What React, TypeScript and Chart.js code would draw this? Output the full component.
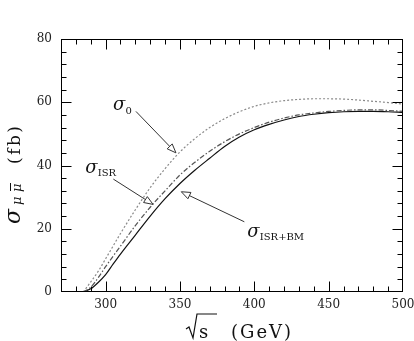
import React, { useEffect, useRef } from 'react';
import { Chart, registerables } from 'chart.js';

Chart.register(...registerables);

// sqrt(s) in GeV
const energies = [285, 290, 295, 300, 305, 310, 320, 330, 340, 350, 360, 370, 380, 390, 400, 410, 420, 430, 440, 450, 460, 470, 480, 490, 500];
// cross sections in fb
const sigma0 = [0, 3.2, 6.5, 10.5, 14.5, 18.5, 26, 33, 39, 44.3, 48.5, 52, 54.8, 57, 58.7, 59.8, 60.5, 60.9, 61.1, 61.1, 61, 60.7, 60.3, 59.9, 59.4];
const sigmaISR = [0, 1.5, 4.5, 8, 11.3, 14.5, 21, 26.8, 32, 37, 41, 44.5, 47.5, 50, 52, 53.7, 55, 56, 56.6, 57.1, 57.4, 57.6, 57.6, 57.4, 57.1];
const sigmaISRBM = [0, 1, 3, 5.5, 8.8, 12, 18, 24, 29.5, 34.3, 38.5, 42.3, 46, 49, 51.3, 53, 54.4, 55.5, 56.2, 56.7, 57, 57.1, 57.1, 57, 56.8];

const xTickLabels = [300, 350, 400, 450, 500];
const yTickLabels = [0, 20, 40, 60, 80];
const xMin = 270, xMax = 500, yMin = 0, yMax = 80;
const xMinorStep = 10;
const yMinorStep = 4;

// annotation: label anchor (data coords), arrow start and tip (data coords)
const annotations = [
  { sub: '0', label: [305, 57.5], from: [320.4, 57.1], to: [347.3, 44.0] },
  { sub: 'ISR', label: [286.3, 37.7], from: [305.2, 35.7], to: [331.9, 27.7] },
  { sub: 'ISR+BM', label: [395.3, 17.4], from: [393.3, 22.2], to: [350.9, 31.7] },
];

const SERIF = '"DejaVu Serif", "Liberation Serif", serif';

const decor = {
  id: 'decor',
  afterDatasetsDraw(chart: any) {
    const { ctx, chartArea: a } = chart;
    const xs = chart.scales.x;
    const ys = chart.scales.y;
    ctx.save();
    ctx.strokeStyle = '#000';
    ctx.lineWidth = 1;
    const L = Math.round(a.left) + 0.5;
    const R = Math.round(a.right) - 0.5;
    const T = Math.round(a.top) + 0.5;
    const B = Math.round(a.bottom) - 0.5;
    ctx.strokeRect(L, T, R - L, B - T);
    ctx.beginPath();
    for (let v = xMin + xMinorStep; v < xMax; v += xMinorStep) {
      const len = xTickLabels.includes(v) ? 10 : 5;
      const px = Math.round(xs.getPixelForValue(v)) + 0.5;
      ctx.moveTo(px, B); ctx.lineTo(px, B - len);
      ctx.moveTo(px, T); ctx.lineTo(px, T + len);
    }
    for (let v = yMin + yMinorStep; v < yMax; v += yMinorStep) {
      const len = yTickLabels.includes(v) ? 10 : 5;
      const py = Math.round(ys.getPixelForValue(v)) + 0.5;
      ctx.moveTo(L, py); ctx.lineTo(L + len, py);
      ctx.moveTo(R, py); ctx.lineTo(R - len, py);
    }
    ctx.stroke();

    // annotations
    ctx.strokeStyle = '#333';
    ctx.fillStyle = '#111';
    for (const an of annotations) {
      const lx = xs.getPixelForValue(an.label[0]);
      const ly = ys.getPixelForValue(an.label[1]);
      ctx.font = `italic 18px ${SERIF}`;
      ctx.textBaseline = 'alphabetic';
      ctx.textAlign = 'left';
      ctx.fillText('σ', lx, ly);
      ctx.font = `10px ${SERIF}`;
      ctx.fillText(an.sub, lx + 12.5, ly + 3.5);
      const fx = xs.getPixelForValue(an.from[0]);
      const fy = ys.getPixelForValue(an.from[1]);
      const tx = xs.getPixelForValue(an.to[0]);
      const ty = ys.getPixelForValue(an.to[1]);
      const ang = Math.atan2(ty - fy, tx - fx);
      const hl = 9, hw = 3.5;
      const bx = tx - hl * Math.cos(ang), by = ty - hl * Math.sin(ang);
      ctx.beginPath();
      ctx.moveTo(fx, fy);
      ctx.lineTo(bx, by);
      ctx.stroke();
      ctx.beginPath();
      ctx.moveTo(tx, ty);
      ctx.lineTo(bx + hw * Math.sin(ang), by - hw * Math.cos(ang));
      ctx.lineTo(bx - hw * Math.sin(ang), by + hw * Math.cos(ang));
      ctx.closePath();
      ctx.fillStyle = '#fff';
      ctx.fill();
      ctx.stroke();
      ctx.fillStyle = '#111';
    }

    // x title: sqrt(s)  (GeV)
    const cx = (a.left + a.right) / 2;
    const base = a.bottom + 46;
    ctx.strokeStyle = '#111';
    ctx.lineWidth = 1.2;
    ctx.beginPath();
    ctx.moveTo(cx - 46, base - 9);
    ctx.lineTo(cx - 43, base - 11);
    ctx.lineTo(cx - 39, base);
    ctx.lineTo(cx - 35, base - 24);
    ctx.lineTo(cx - 15, base - 24);
    ctx.stroke();
    ctx.fillStyle = '#111';
    ctx.font = `18px ${SERIF}`;
    ctx.textAlign = 'left';
    ctx.textBaseline = 'alphabetic';
    (ctx as any).letterSpacing = '0px';
    ctx.fillText('s', cx - 33, base);
    (ctx as any).letterSpacing = '2px';
    ctx.fillText('(GeV)', cx - 1, base);
    (ctx as any).letterSpacing = '0px';

    // y title: sigma_{mu mubar} (fb), rotated
    ctx.save();
    ctx.translate(a.left - 41, 224);
    ctx.rotate(-Math.PI / 2);
    ctx.font = `italic 22px ${SERIF}`;
    ctx.fillText('σ', 0, 0);
    ctx.font = `italic 13px ${SERIF}`;
    ctx.fillText('μ', 19, 1);
    ctx.fillText('μ', 32, 1);
    ctx.lineWidth = 1;
    ctx.beginPath();
    ctx.moveTo(33, -9.5);
    ctx.lineTo(41, -9.5);
    ctx.stroke();
    ctx.font = `17px ${SERIF}`;
    (ctx as any).letterSpacing = '2.5px';
    ctx.fillText('(fb)', 60, 0);
    (ctx as any).letterSpacing = '0px';
    ctx.restore();

    ctx.restore();
  },
};

export default function App() {
  const ref = useRef<HTMLCanvasElement | null>(null);
  useEffect(() => {
    if (!ref.current) return;
    const mk = (arr: number[]) => energies.map((e, i) => ({ x: e, y: arr[i] }));
    const tickFont = { family: SERIF, size: 12 };
    const chart = new Chart(ref.current, {
      type: 'line',
      data: {
        datasets: [
          { label: 'σ0', data: mk(sigma0), borderColor: '#8a8a8a', borderWidth: 1.2, borderDash: [2, 2], cubicInterpolationMode: 'monotone', pointRadius: 0 },
          { label: 'σISR', data: mk(sigmaISR), borderColor: '#555', borderWidth: 1.2, borderDash: [5, 2, 1.5, 2], cubicInterpolationMode: 'monotone', pointRadius: 0 },
          { label: 'σISR+BM', data: mk(sigmaISRBM), borderColor: '#111', borderWidth: 1.2, cubicInterpolationMode: 'monotone', pointRadius: 0 },
        ],
      },
      options: {
        responsive: false,
        animation: false,
        devicePixelRatio: 1,
        layout: { padding: { top: 39, right: 11, left: 0, bottom: 0 } },
        plugins: { legend: { display: false }, tooltip: { enabled: false } },
        scales: {
          x: {
            type: 'linear', min: xMin, max: xMax,
            grid: { display: false, drawTicks: false },
            border: { display: false },
            afterBuildTicks: (s: any) => { s.ticks = xTickLabels.map((v) => ({ value: v })); },
            afterFit: (s: any) => { s.height = 49; s.paddingRight = 0; s.paddingLeft = 0; },
            ticks: { font: tickFont, color: '#222', padding: 6, maxRotation: 0, autoSkip: false },
          },
          y: {
            type: 'linear', min: yMin, max: yMax,
            grid: { display: false, drawTicks: false },
            border: { display: false },
            afterBuildTicks: (s: any) => { s.ticks = yTickLabels.map((v) => ({ value: v })); },
            afterFit: (s: any) => { s.width = 61; s.paddingTop = 0; s.paddingBottom = 0; },
            ticks: { font: tickFont, color: '#222', padding: 9 },
          },
        },
      } as any,
      plugins: [decor],
    });
    return () => chart.destroy();
  }, []);
  return (
    <div style={{ position: 'fixed', left: 0, top: 0, width: 414, height: 341, background: '#fff' }}>
      <canvas ref={ref} width={414} height={341} style={{ display: 'block', width: 414, height: 341 }} />
    </div>
  );
}
